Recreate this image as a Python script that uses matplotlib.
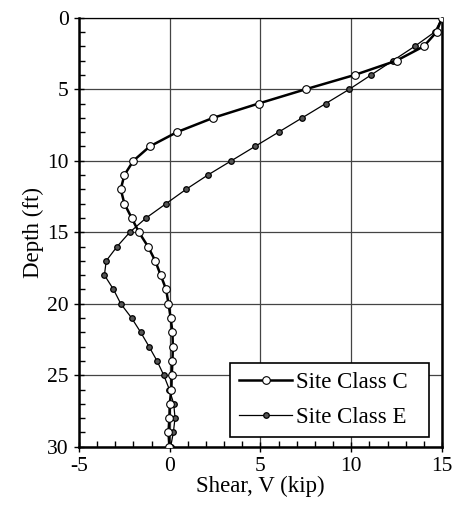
import numpy as np
import matplotlib.pyplot as plt
from matplotlib.ticker import MultipleLocator

# profundidades (ft)
depth = list(range(0, 31))

# Site Class C
shear_C = [15.0, 14.7, 14.0, 12.5, 10.2, 7.5, 4.9, 2.4, 0.4, -1.1,
           -2.0, -2.5, -2.7, -2.5, -2.1, -1.7, -1.2, -0.8, -0.5, -0.2,
           -0.07, 0.05, 0.15, 0.17, 0.15, 0.11, 0.09, 0.0, -0.02, -0.07,
           -0.02]

# Site Class E
shear_E = [15.0, 14.6, 13.5, 12.3, 11.1, 9.9, 8.6, 7.3, 6.0, 4.7,
           3.4, 2.1, 0.9, -0.2, -1.3, -2.2, -2.9, -3.5, -3.6, -3.1,
           -2.7, -2.1, -1.6, -1.14, -0.7, -0.33, -0.02, 0.22, 0.29, 0.2,
           0.05]

plt.rcParams['font.family'] = ['Liberation Serif', 'DejaVu Serif']
plt.rcParams['axes.unicode_minus'] = False

fig = plt.figure(figsize=(4.58, 5.13), dpi=100)
ax = fig.add_axes([0.1725, 0.1292, 0.7925, 0.8363])

ax.plot(shear_C, depth, '-o', color='black', linewidth=1.8,
        markersize=5.5, markerfacecolor='white', markeredgecolor='black',
        markeredgewidth=0.8, label='Site Class C', zorder=4)
ax.plot(shear_E, depth, '-o', color='black', linewidth=0.9,
        markersize=4, markerfacecolor='#555555', markeredgecolor='black',
        markeredgewidth=0.9, label='Site Class E', zorder=3)

ax.set_xlim(-5, 15)
ax.set_ylim(30, 0)
ax.xaxis.set_major_locator(MultipleLocator(5))
ax.xaxis.set_minor_locator(MultipleLocator(1))
ax.yaxis.set_major_locator(MultipleLocator(5))
ax.yaxis.set_minor_locator(MultipleLocator(1))

ax.tick_params(which='major', direction='inout', length=7, width=1,
               labelsize=15.5, pad=4)
ax.tick_params(which='minor', direction='in', length=4, width=1)

ax.grid(True, which='major', color='#444444', linewidth=0.9)
ax.set_axisbelow(True)

for side in ['left', 'right', 'bottom']:
    ax.spines[side].set_linewidth(1.8)
ax.spines['top'].set_linewidth(0.9)

ax.set_xlabel('Shear, V (kip)', fontsize=16.5, labelpad=0)
ax.set_ylabel('Depth (ft)', fontsize=16.5, labelpad=2)

leg = ax.legend(loc='lower left', mode='expand', fontsize=16.5, frameon=True,
                fancybox=False, edgecolor='black', framealpha=1,
                borderpad=0.4, handlelength=2.3, handletextpad=0.2,
                labelspacing=0.6, borderaxespad=0,
                bbox_to_anchor=(0.416, 0.023, 0.548, 0.18))
leg.get_frame().set_linewidth(1.2)

plt.savefig('out.png', dpi=100)
